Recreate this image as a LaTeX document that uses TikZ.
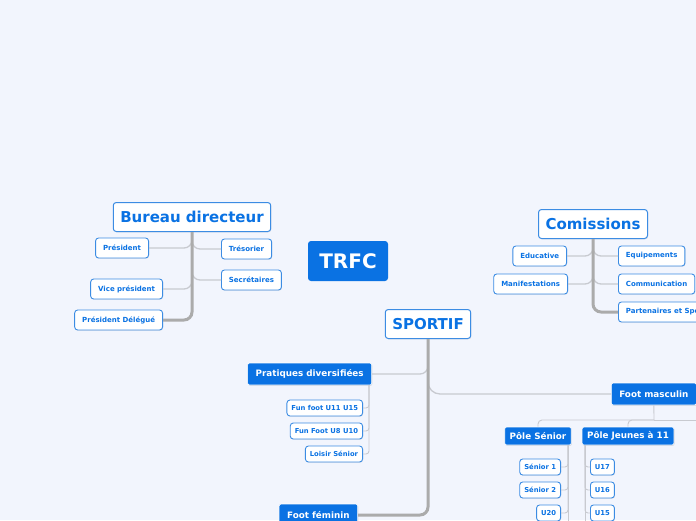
\documentclass[tikz,border=0pt]{standalone}
\usepackage{fontspec}
\setmainfont{DejaVu Sans}
\usepackage{xcolor}
\usepackage{tikz}
\usetikzlibrary{shadows}
\definecolor{bgpage}{HTML}{F2F5FD}
\definecolor{mmblue}{HTML}{0A72E3}
\definecolor{mmedge}{HTML}{3C8CE3}
\definecolor{trunkgray}{HTML}{ABABAB}
\definecolor{linegray}{HTML}{C8CAD0}

\begin{document}
\begin{tikzpicture}[
  x=1pt,y=-1pt,
  font=\bfseries,
  title/.style={draw=mmedge,line width=1pt,fill=white,text=mmblue,rounded corners=3pt,
    font=\fontsize{15}{17}\selectfont\bfseries,minimum height=29pt,inner xsep=7pt,
    drop shadow={opacity=0.2,shadow xshift=0.6pt,shadow yshift=-0.8pt}},
  root/.style={fill=mmblue,text=white,rounded corners=3pt,font=\fontsize{20}{22}\selectfont\bfseries,
    minimum width=80pt,minimum height=40pt},
  leaf/.style={draw=mmedge,line width=0.9pt,fill=white,text=mmblue,rounded corners=3pt,
    font=\fontsize{7}{8}\selectfont\bfseries,minimum height=20pt,inner xsep=7.5pt,
    drop shadow={opacity=0.2,shadow xshift=0.5pt,shadow yshift=-0.7pt}},
  sleaf/.style={leaf,font=\fontsize{6.8}{8}\selectfont\bfseries,minimum height=16pt,inner xsep=4.5pt},
  cat/.style={draw=white,line width=0.6pt,fill=mmblue,text=white,rounded corners=2pt,
    font=\fontsize{8.8}{10}\selectfont\bfseries,minimum height=22pt,inner xsep=8pt,
    drop shadow={opacity=0.25,shadow xshift=0.6pt,shadow yshift=-0.8pt}},
  subcat/.style={cat,minimum height=18pt,inner xsep=5pt},
  trunk/.style={draw=trunkgray,line width=3pt,rounded corners=8pt},
  branch/.style={draw=linegray,line width=1.3pt,rounded corners=8pt},
  twig/.style={draw=linegray,line width=0.9pt,rounded corners=3pt}
]
\useasboundingbox (0,0) rectangle (696,520);
\fill[bgpage] (0,0) rectangle (696,520);
\clip (0,0) rectangle (696,520);

% bureau
\node[title] (bd) at (192,217) {Bureau directeur};
\node[leaf,anchor=east] (pres) at (149,248) {Président};
\node[leaf,anchor=east] (vice) at (163,289) {Vice président};
\node[leaf,anchor=east] (pdel) at (163,320) {Président Délégué};
\node[leaf,anchor=west] (tres) at (221,249) {Trésorier};
\node[leaf,anchor=west] (secr) at (221,280) {Secrétaires};
\draw[branch] (pres.east) -| (bd.south);
\draw[branch] (vice.east) -| (bd.south);
\draw[branch] (tres.west) -| (bd.south);
\draw[branch] (secr.west) -| (bd.south);
\draw[trunk] (bd.south) |- (pdel.east);

% centre
\node[root] (trfc) at (348,261) {TRFC};

% comissions
\node[title] (com) at (593,224) {Comissions};
\node[leaf,anchor=east] (educ) at (567,256) {Educative};
\node[leaf,anchor=east] (manif) at (568,284) {Manifestations};
\node[leaf,anchor=west] (equip) at (618,256) {Equipements};
\node[leaf,anchor=west] (comm) at (618,284) {Communication};
\node[leaf,anchor=west] (part) at (618,312) {Partenaires et Sponsors};
\draw[branch] (educ.east) -| (com.south);
\draw[branch] (manif.east) -| (com.south);
\draw[branch] (equip.west) -| (com.south);
\draw[branch] (comm.west) -| (com.south);
\draw[trunk] (com.south) |- (part.west);

% sportif
\node[title] (sport) at (428,324) {SPORTIF};
\node[cat,anchor=east] (pdiv) at (372,374) {Pratiques diversifiées};
\node[sleaf,anchor=east] (fun1) at (363,408) {Fun foot U11 U15};
\node[sleaf,anchor=east] (fun2) at (363,431) {Fun Foot U8 U10};
\node[sleaf,anchor=east] (loisir) at (363,454) {Loisir Sénior};
\node[cat,anchor=east] (ffem) at (358,515) {Foot féminin};
\node[cat,anchor=west] (fmasc) at (611,394) {Foot masculin};
\draw[branch] (pdiv.east) -| (sport.south);
\draw[branch,rounded corners=12pt] (sport.south) |- (fmasc.west);
\draw[trunk] (sport.south) |- (ffem.east);
\coordinate (pdivd) at (369,385);
\draw[twig] (pdivd) |- (fun1.east);
\draw[twig] (pdivd) |- (fun2.east);
\draw[twig] (pdivd) |- (loisir.east);

% foot masculin
\node[subcat] (psen) at (538,436) {Pôle Sénior};
\node[subcat] (pjeu) at (628,436) {Pôle Jeunes à 11};
\coordinate (fmj) at (654,420);
\coordinate (fmout) at (700,420);
\draw[twig] (fmasc.south) -- (fmj);
\draw[twig,rounded corners=4pt] (fmj) -| (psen.north);
\draw[twig,rounded corners=4pt] (fmj) -| (pjeu.north);
\draw[twig] (fmj) -- (fmout);

\node[sleaf,anchor=east] (sen1) at (561,467) {Sénior 1};
\node[sleaf,anchor=east] (sen2) at (561,490) {Sénior 2};
\node[sleaf,anchor=east] (u20) at (561,513) {U20};
\node[sleaf,anchor=west] (u17) at (590,467) {U17};
\node[sleaf,anchor=west] (u16) at (590,490) {U16};
\node[sleaf,anchor=west] (u15) at (590,513) {U15};
\coordinate (psend) at (568,445);
\coordinate (psenend) at (568,530);
\coordinate (pjeud) at (585,445);
\coordinate (pjeuend) at (585,530);
\draw[twig] (psend) -- (psenend);
\draw[twig] (psend) |- (sen1.east);
\draw[twig] (psend) |- (sen2.east);
\draw[twig] (psend) |- (u20.east);
\draw[twig] (pjeud) -- (pjeuend);
\draw[twig] (pjeud) |- (u17.west);
\draw[twig] (pjeud) |- (u16.west);
\draw[twig] (pjeud) |- (u15.west);
\end{tikzpicture}
\end{document}
